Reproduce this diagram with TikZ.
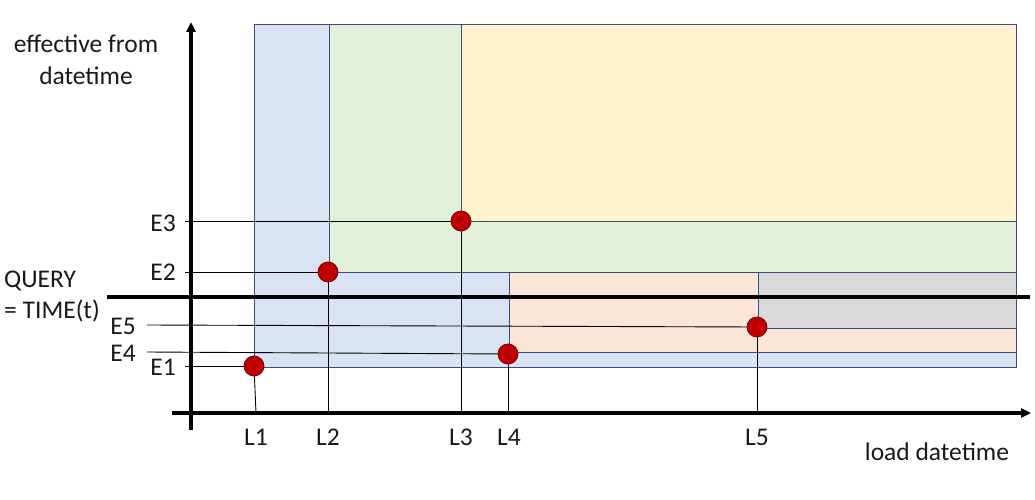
\documentclass[tikz,border=0pt]{standalone}
\usepackage{fontspec}
\setmainfont{Carlito}
\usetikzlibrary{arrows.meta}
\definecolor{fblue}{HTML}{DAE3F3}
\definecolor{fgreen}{HTML}{E2F0D9}
\definecolor{fyellow}{HTML}{FFF2CC}
\definecolor{forange}{HTML}{FBE5D6}
\definecolor{fgrey}{HTML}{D9D9D9}
\definecolor{edge}{HTML}{3B4E7A}
\definecolor{dotred}{HTML}{C00000}
\definecolor{dotedge}{HTML}{7A0000}
\tikzset{
  region/.style={draw=edge, line width=0.9pt},
  axis/.style={line width=3.5pt, -{Triangle[length=10pt,width=9pt]}},
  guide/.style={line width=0.9pt, black},
  dot/.style={circle, fill=dotred, draw=dotedge, line width=0.8pt, minimum size=20pt, inner sep=0pt},
  lbl/.style={font=\fontsize{25.5}{30}\selectfont, inner sep=0pt, text=black!90},
}
\begin{document}
\begin{tikzpicture}[x=1pt,y=-1pt]
\useasboundingbox (0,0) rectangle (1035,500);
% regions
\draw[region, fill=fblue] (254,24) rectangle (1016,367);
\draw[region, fill=fgreen] (329,24) rectangle (1016,272);
\draw[region, fill=fyellow] (461,24) rectangle (1016,221);
\draw[region, fill=forange] (509,272) rectangle (1016,352);
\draw[region, fill=fgrey] (758,272) rectangle (1016,328);
% axes
\coordinate (ybot) at (191,430);
\coordinate (ytop) at (191,22);
\coordinate (xleft) at (172,413);
\coordinate (xright) at (1031,413);
\draw[axis] (ybot) -- (ytop);
\draw[axis] (xleft) -- (xright);
% query line
\coordinate (qa) at (107,297);
\coordinate (qb) at (1030,297);
\draw[line width=3.5pt] (qa) -- (qb);
% points (named, positioned)
\coordinate (p1) at (254,366);
\coordinate (p2) at (328,272);
\coordinate (p3) at (461,221);
\coordinate (p4) at (508,354);
\coordinate (p5) at (757,327);
% guide start / end coordinates
\coordinate (e1) at (185,366);
\coordinate (e2) at (185,272);
\coordinate (e3) at (185,221);
\coordinate (e4) at (147,352);
\coordinate (e5) at (147,325);
\coordinate (l1) at (256,413);
\coordinate (l2) at (328,413);
\coordinate (l3) at (461,413);
\coordinate (l4) at (508,413);
\coordinate (l5) at (757,413);
\draw[guide] (e1) -- (p1);
\draw[guide] (e2) -- (p2);
\draw[guide] (e3) -- (p3);
\draw[guide] (e4) -- (p4);
\draw[guide] (e5) -- (p5);
\draw[guide] (p1) -- (l1);
\draw[guide] (p2) -- (l2);
\draw[guide] (p3) -- (l3);
\draw[guide] (p4) -- (l4);
\draw[guide] (p5) -- (l5);
% dots on top
\node[dot] (d1) at (p1) {};
\node[dot] (d2) at (p2) {};
\node[dot] (d3) at (p3) {};
\node[dot] (d4) at (p4) {};
\node[dot] (d5) at (p5) {};
% labels
\node[lbl, anchor=east] (E3) at (176,223) {E3};
\node[lbl, anchor=east] (E2) at (176,272) {E2};
\node[lbl, anchor=east] (E1) at (176,367) {E1};
\node[lbl, anchor=east] (E5) at (136,326) {E5};
\node[lbl, anchor=east] (E4) at (136,353) {E4};
\node[lbl] (L1) at (256,437) {L1};
\node[lbl] (L2) at (328,437) {L2};
\node[lbl] (L3) at (461,437) {L3};
\node[lbl] (L4) at (509,437) {L4};
\node[lbl] (L5) at (757,437) {L5};
\node[lbl, align=center] (yl) at (86,60) {effective from\\[2pt]datetime};
\node[lbl, align=left, anchor=west] (ql) at (4,296) {QUERY\\[1pt]= TIME(t)};
\node[lbl] (xl) at (937,452) {load datetime};
\end{tikzpicture}
\end{document}
